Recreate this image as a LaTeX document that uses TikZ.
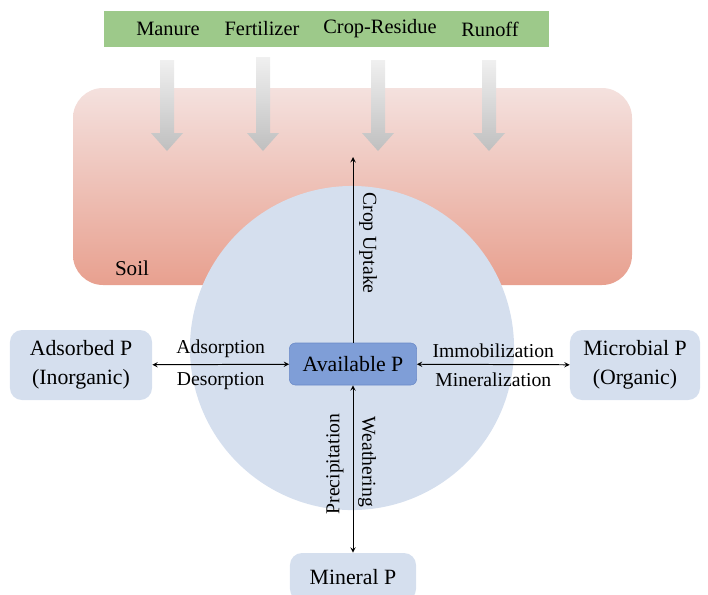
\documentclass[tikz,border=0pt]{standalone}
\usepackage{fontspec}
\setmainfont{Liberation Serif}
\usetikzlibrary{positioning}

\definecolor{srcgreen}{HTML}{9DC98A}
\definecolor{soiltop}{HTML}{F4E1DE}
\definecolor{soilbot}{HTML}{E8A08F}
\definecolor{poolblue}{HTML}{D5DFEE}
\definecolor{availblue}{HTML}{7F9ED7}
\definecolor{availedge}{HTML}{6B8AC7}

\tikzset{
  pool/.style={fill=poolblue, rounded corners=0.3cm, align=center,
    font=\fontsize{15.5}{21}\selectfont},
  flux/.style={font=\fontsize{14}{16}\selectfont},
  srclabel/.style={font=\fontsize{14.5}{16}\selectfont},
  inflow/.style={top color=gray!12, bottom color=gray!50, draw=none},
}

\begin{document}
\begin{tikzpicture}[x=0.025cm, y=-0.025cm, >=stealth]
  \useasboundingbox (0,0) rectangle (708,594);
  \clip (0,0) rectangle (708,594);

  % soil layer
  \shade[top color=soiltop, bottom color=soilbot, rounded corners=0.75cm]
    (73,88) rectangle (632,285);
  \node[flux, font=\fontsize{15}{16}\selectfont] (soil) at (132,268) {Soil};

  % P sources
  \fill[srcgreen] (104,11) rectangle (549,47);
  \node[srclabel] (manure) at (168,29) {Manure};
  \node[srclabel] (fert) at (262,29) {Fertilizer};
  \node[srclabel] (resid) at (380,29) {Crop-Residue};
  \node[srclabel] (runoff) at (490,29) {Runoff};

  \foreach \x/\t in {167/60, 263/57, 378/60, 489/60}
    \shade[inflow] (\x-7,\t) -- (\x+7,\t) -- (\x+7,133) -- (\x+16,133)
      -- (\x,151) -- (\x-16,133) -- (\x-7,133) -- cycle;

  % soil solution
  \fill[poolblue] (352,348) circle[radius=4.05cm];

  % pools
  \node[fill=availblue, draw=availedge, rounded corners=0.15cm,
    minimum width=3.18cm, minimum height=1.05cm,
    font=\fontsize{15.5}{18}\selectfont] (avail) at (353,364) {Available P};
  \node[pool, minimum width=3.55cm, minimum height=1.75cm] (adsorb) at (81,365)
    {Adsorbed P\\(Inorganic)};
  \node[pool, minimum width=3.25cm, minimum height=1.75cm] (microb) at (635,365)
    {Microbial P\\(Organic)};
  \node[pool, minimum width=3.15cm, minimum height=1.2cm] (mineral) at (353,577)
    {Mineral P};
  \coordinate (uptake) at (353,157);

  % fluxes
  \begin{scope}[line width=0.7pt]
  \draw[<->] (adsorb) -- (avail)
    node[flux, midway, above=1pt] (ads) {Adsorption}
    node[flux, midway, below=2pt] (des) {Desorption};
  \draw[<->] (avail) -- (microb)
    node[flux, midway, above=1pt] (immob) {Immobilization}
    node[flux, midway, below=2pt] (miner) {Mineralization};
  \draw[->] (avail) -- (uptake);
  \draw[<->] (avail) -- (mineral);
  \end{scope}
  \node[flux, rotate=-90] (crop) at (368,243) {Crop Uptake};
  \node[flux, rotate=90] (precip) at (335,464) {Precipitation};
  \node[flux, rotate=-90] (weath) at (367,462) {Weathering};

\end{tikzpicture}
\end{document}
